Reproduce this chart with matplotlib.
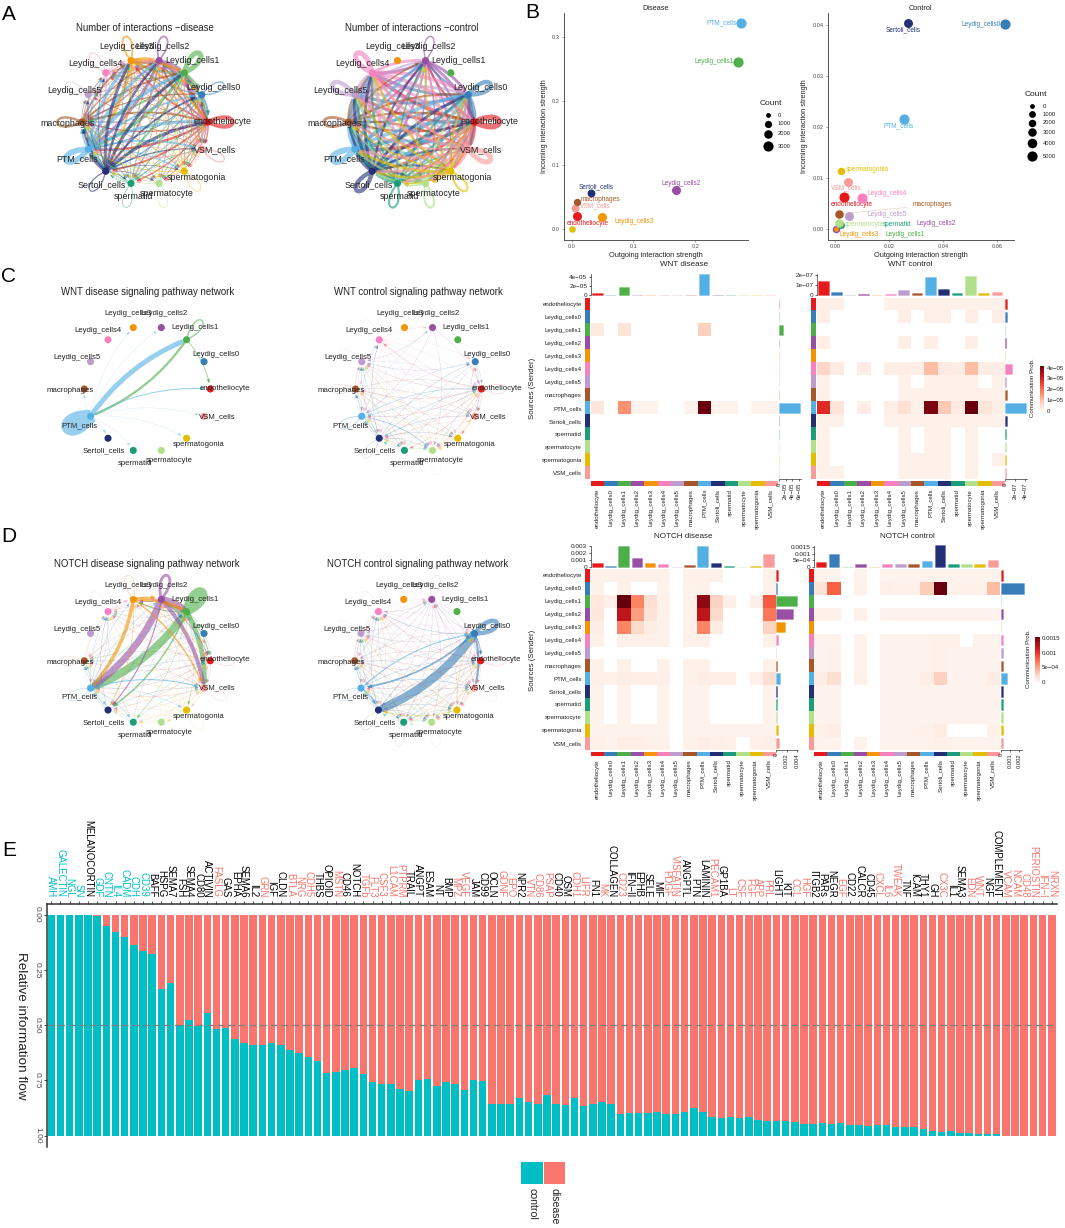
import numpy as np
import matplotlib
matplotlib.use("Agg")
import matplotlib.pyplot as plt
from matplotlib.cm import ScalarMappable
from matplotlib.colors import ListedColormap, Normalize, to_rgba
from matplotlib.patches import FancyArrowPatch, PathPatch, Rectangle
from matplotlib.path import Path

plt.rcParams["font.family"] = ["Liberation Sans", "DejaVu Sans"]

W, H = 1065, 1228

CELLS = ["endotheliocyte", "Leydig_cells0", "Leydig_cells1", "Leydig_cells2", "Leydig_cells3",
         "Leydig_cells4", "Leydig_cells5", "macrophages", "PTM_cells", "Sertoli_cells",
         "spermatid", "spermatocyte", "spermatogonia", "VSM_cells"]
CELL_COLORS = ["#E41A1C", "#377EB8", "#4DAF4A", "#984EA3", "#F29403", "#F781BF", "#BC9DCC",
               "#A65628", "#54B0E4", "#222F75", "#1B9E77", "#B2DF8A", "#E3BE00", "#FB9A99"]
COLOR_OF = dict(zip(CELLS, CELL_COLORS))

# number of interactions, rows are senders
COUNT_DISEASE = [
    [7, 3, 4, 3, 3, 1, 1, 2, 4, 3, 2, 1, 1, 2],
    [3, 2, 3, 2, 2, 1, 0, 1, 2, 2, 1, 1, 1, 1],
    [4, 3, 8, 5, 5, 2, 1, 3, 5, 3, 1, 1, 1, 2],
    [4, 2, 5, 3, 4, 1, 1, 2, 5, 3, 1, 1, 1, 2],
    [4, 2, 5, 4, 3, 1, 1, 2, 6, 3, 1, 1, 1, 2],
    [2, 1, 2, 1, 1, 1, 0, 1, 2, 1, 0, 0, 0, 1],
    [1, 1, 1, 1, 1, 0, 1, 1, 1, 1, 0, 0, 0, 1],
    [3, 2, 3, 2, 3, 1, 1, 4, 3, 2, 1, 1, 1, 1],
    [5, 3, 6, 5, 5, 2, 1, 3, 9, 4, 2, 1, 2, 3],
    [5, 3, 5, 4, 5, 1, 1, 3, 5, 2, 1, 1, 1, 2],
    [1, 1, 1, 1, 1, 0, 0, 1, 1, 1, 1, 0, 0, 1],
    [1, 1, 1, 1, 1, 0, 0, 1, 1, 1, 0, 1, 0, 1],
    [1, 1, 1, 1, 1, 0, 0, 1, 1, 1, 0, 0, 1, 1],
    [2, 1, 2, 1, 1, 0, 0, 1, 2, 1, 1, 1, 1, 2],
]
COUNT_CONTROL = [
    [8, 5, 0, 3, 0, 5, 4, 3, 5, 4, 3, 3, 3, 4],
    [5, 6, 0, 3, 0, 4, 4, 3, 5, 4, 3, 3, 3, 4],
    [0, 0, 0, 0, 0, 0, 0, 0, 0, 0, 0, 0, 0, 0],
    [4, 4, 0, 2, 0, 4, 3, 3, 4, 3, 2, 2, 2, 3],
    [0, 0, 0, 0, 0, 0, 0, 0, 0, 0, 0, 0, 0, 0],
    [5, 5, 0, 4, 0, 7, 5, 4, 5, 5, 3, 3, 3, 4],
    [4, 4, 0, 3, 0, 5, 6, 3, 4, 4, 3, 3, 3, 3],
    [3, 3, 0, 2, 0, 3, 3, 4, 3, 3, 2, 2, 2, 3],
    [5, 5, 0, 4, 0, 5, 4, 4, 8, 5, 3, 3, 4, 4],
    [4, 4, 0, 3, 0, 4, 4, 3, 5, 6, 3, 3, 3, 3],
    [3, 3, 0, 2, 0, 3, 3, 2, 3, 3, 3, 2, 2, 2],
    [3, 3, 0, 2, 0, 3, 3, 2, 3, 3, 2, 3, 2, 2],
    [3, 3, 0, 2, 0, 3, 3, 2, 4, 3, 2, 2, 3, 3],
    [5, 4, 0, 3, 0, 4, 4, 3, 4, 4, 3, 2, 3, 7],
]

# communication probability, in units of 1e-5
WNT_DISEASE = [
    [0] * 14, [0] * 14,
    [.25, 0, .4, 0, 0, 0, 0, 0, .7, 0, 0, 0, 0, 0],
    [0] * 14, [0] * 14, [0] * 14, [0] * 14, [0] * 14,
    [.3, 0, 1.5, .07, .07, 0, 0, .07, 4, .07, .07, 0, .07, .07],
    [0] * 14, [0] * 14, [0] * 14, [0] * 14, [0] * 14,
]
# units of 1e-7
WNT_CONTROL = [
    [.04, .04, 0, 0, 0, .03, .03, .03, .03, .03, .03, .03, .03, .03],
    [.05, 0, 0, 0, 0, 0, .05, 0, .04, .04, 0, .05, 0, .05],
    [0] * 14,
    [.05, 0, 0, 0, 0, 0, .05, 0, .05, 0, 0, .05, 0, 0],
    [0] * 14,
    [.2, .07, 0, .06, 0, .05, .06, .05, .3, .08, .06, .3, .06, .05],
    [.03, 0, 0, 0, 0, 0, .03, 0, .03, .03, .03, .03, 0, .03],
    [.03, 0, 0, 0, 0, 0, .03, .03, .03, .03, .03, .03, .03, .03],
    [.85, .12, 0, .05, 0, .05, .15, .03, 1.2, .25, .08, 1.25, .12, .05],
    [.03, .03, 0, 0, 0, .03, .03, .03, .03, .03, .03, .03, .03, .03],
    [.03, 0, 0, 0, 0, 0, .03, 0, .03, .03, 0, .03, 0, 0],
    [.03, 0, 0, 0, 0, 0, .03, 0, .03, .03, 0, .03, 0, 0],
    [.03, 0, 0, 0, 0, 0, .03, .03, .03, .03, 0, .03, 0, .03],
    [.03, .03, 0, 0, 0, 0, .03, .03, .03, .03, 0, .03, 0, 0],
]
# units of 1e-3
NOTCH_DISEASE = [
    [.03, .03, .03, .03, .03, .03, 0, .03, .03, .03, 0, 0, 0, .03],
    [.03, 0, .03, 0, 0, .02, 0, .02, .03, 0, 0, 0, 0, .03],
    [.1, .04, 1.2, .5, .15, .03, 0, .03, 1.1, .2, .04, 0, .04, .65],
    [.1, 0, .95, .4, .12, .03, 0, .03, .95, .17, 0, 0, 0, .55],
    [.06, 0, .5, .17, .06, .03, 0, .03, .5, .07, 0, 0, 0, .2],
    [.03, 0, .04, .04, .04, .03, 0, .03, .04, 0, 0, 0, 0, .03],
    [0] * 14,
    [.03, 0, .03, 0, 0, .03, 0, .03, .03, 0, 0, 0, 0, .03],
    [.04, .04, .06, .05, .05, .04, 0, .03, .06, .05, .05, 0, .04, .15],
    [.02, 0, .02, 0, 0, .02, 0, .02, .02, 0, 0, 0, 0, .02],
    [.02, 0, .02, 0, 0, .02, 0, .02, .02, 0, 0, 0, 0, .02],
    [.02, 0, .02, 0, 0, .02, 0, .02, .02, 0, 0, 0, 0, .02],
    [.02, .02, .02, .02, .02, .02, 0, .02, .02, .02, .02, .02, .02, .02],
    [.03, .02, .06, .05, .03, .03, 0, .03, .06, .04, .03, 0, .03, .04],
]
NOTCH_CONTROL = [
    [.02, .02, 0, .02, 0, .02, .02, .02, .02, .02, .02, .02, .02, .02],
    [.12, .6, 0, .03, 0, .04, .03, .03, .22, 1.15, .03, .03, .03, .28],
    [0] * 14,
    [.03, .03, 0, .03, 0, .02, .02, .02, .02, .02, .02, .02, .02, .02],
    [0] * 14,
    [.02, .02, 0, .02, 0, .02, .02, .02, .02, .03, .03, 0, .02, .02],
    [.02, .03, 0, .02, 0, .02, .02, .02, .02, .03, .02, .02, .02, .02],
    [.02, .03, 0, .02, 0, .02, .02, .02, .02, .03, .02, .02, .02, .02],
    [.05, .14, 0, .03, 0, .02, .02, .02, .05, .2, .02, .02, .02, .06],
    [.02, .02, 0, 0, 0, .02, .02, .02, .02, .02, .02, .02, .02, .02],
    [.02, .02, 0, 0, 0, .02, .02, .02, .02, .02, .02, .02, .02, .02],
    [.02, .02, 0, 0, 0, .02, .02, .02, .02, .02, .02, .02, .02, .02],
    [.03, .05, 0, 0, 0, .02, .02, .02, .03, .07, 0, 0, 0, .03],
    [.02, .02, 0, .02, 0, .02, .02, .02, .02, .03, .02, .02, .02, .02],
]

# panel B
DIS_NAMES = ["spermatogonia", "Leydig_cells3", "endotheliocyte", "VSM_cells", "macrophages", "Sertoli_cells",
             "Leydig_cells2", "Leydig_cells1", "PTM_cells"]
DIS_OUT = [0, .0497, .0094, .0055, .0083, .032, .1685, .270, .2746]
DIS_IN = [0, .0182, .0198, .0326, .0422, .0571, .0614, .2616, .322]
DIS_COUNT = [700, 2300, 2300, 1500, 1100, 1500, 2300, 3200, 3300]
DIS_LABEL_OFF = [None, (32, 4), (10, 7), (20, -2.4), (24, -3), (5, -6), (5, -6), (-24, 0), (-19.5, 0)]

CTL_NAMES = ["Leydig_cells1", "Leydig_cells2", "Leydig_cells3", "spermatid", "spermatocyte", "macrophages", "Leydig_cells5",
             "endotheliocyte", "Leydig_cells4", "VSM_cells", "spermatogonia", "PTM_cells", "Sertoli_cells", "Leydig_cells0"]
CTL_OUT = [.00025, .00025, .00025, .0022, .0014, .0013, .0049, .0033, .0099, .0046, .00215, .0253, .0268, .0629]
CTL_IN = [0, 0, 0, .00087, .00127, .00295, .00255, .0062, .0061, .00925, .0114, .0215, .0404, .0402]
CTL_COUNT = [0, 2000, 0, 1200, 3000, 3000, 3400, 4800, 4800, 3400, 2000, 4800, 3400, 5000]
CTL_LABEL_OFF = [(68.6, 6), (100, -5), (23.5, 6), (55.6, 0), (25, 1.7), (93.5, -9), (38, -2),
                 (7, 7.5), (25, -4), (-2, 6), (26, -1.4), (-5.5, 6.5), (-5, 6.5), (-24, 0)]

DIS_LEVELS = [0, 1000, 2000, 3000]
DIS_DIAM = [4.8, 7.2, 8.5, 10.2]
CTL_LEVELS = [0, 1000, 2000, 3000, 4000, 5000]
CTL_DIAM = [4.8, 6.8, 7.5, 8.5, 9.6, 10.2]

# panel E
PATHWAYS = ["AMH", "GALECTIN", "NGL", "SN", "MELANOCORTIN", "GDF", "CNTN", "IL4", "CADM", "CDH", "CD39", "BAFF",
            "HSPG", "SEMA7", "FSH", "SEMA4", "CD80", "ACTIVIN", "FASLG", "GAS", "EPHA", "SEMA6", "IL2", "GRN",
            "IGF", "CLDN", "BTLA", "NRG", "CDH5", "THBS", "OPIOID", "MSTN", "CD46", "NOTCH", "TGFb", "FLT3",
            "CSF3", "L1CAM", "PTPRM", "TRAIL", "ANGPT", "ESAM", "NT", "BMP", "MPZ", "VEGF", "JAM", "CD99",
            "OCLN", "GDNF", "EPO", "NPR2", "VTN", "CD86", "PSAP", "CD40", "OSM", "CDH1", "LIFR", "FN1", "MK",
            "COLLAGEN", "CD23", "IFN\u2212II", "EPHB", "SELE", "MIF", "PDGF", "VISFATIN", "ANGPTL", "PTN",
            "LAMININ", "PECAM1", "GP1BA", "LT", "CSF", "FGF", "APP", "PRL", "LIGHT", "KIT", "CCL", "HGF",
            "ITGB2", "PARs", "NEGR", "EGF", "CD22", "CALCR", "CD45", "CXCL", "IL6", "TWEAK", "TNF", "ICAM",
            "THY1", "GH", "CX3C", "IL1", "SEMA3", "EDN", "WNT", "NGF", "COMPLEMENT", "VCAM", "NCAM", "CD48",
            "PERIOSTIN", "IFN\u2212I", "NRXN"]
DISEASE_SHARE = [0, 0, 0, 0, 0, .006, .053, .08, .10, .14, .167, .18,
                 .339, .311, .5, .478, .505, .446, .52, .515, .565, .58, .59, .59,
                 .58, .59, .615, .625, .645, .663, .715, .714, .703, .695, .723, .757,
                 .765, .765, .788, .80, .75, .746, .774, .758, .769, .793, .748, .752,
                 .855, .857, .859, .831, .85, .855, .817, .856, .864, .831, .865, .856, .85,
                 .858, .904, .896, .896, .896, .892, .904, .904, .892, .876,
                 .895, .918, .92, .918, .92, .918, .93, .932, .935, .933, .937, .949,
                 .948, .943, .946, .943, .954, .952, .957, .952, .954, .96, .961, .96,
                 .971, .98, .983, .978, .989, .988, .991, .994, .995, 1, 1, 1, 1, 1, 1]
TEAL_LABELS = ["AMH", "GALECTIN", "NGL", "SN", "GDF", "CNTN", "IL4", "CADM", "CDH", "CD39"]
RED_LABELS = ["FASLG", "GRN", "BTLA", "NRG", "CDH5", "MSTN", "TGFb", "FLT3", "CSF3", "L1CAM", "PTPRM", "MPZ", "VEGF",
              "GDNF", "EPO", "VTN", "CD86", "PSAP", "CDH1", "LIFR", "MK", "CD23", "PDGF", "VISFATIN", "PECAM1", "LT",
              "CSF", "FGF", "APP", "PRL", "CCL", "HGF", "EGF", "CXCL", "IL6", "TWEAK", "CX3C", "EDN", "WNT", "VCAM",
              "NCAM", "CD48", "PERIOSTIN", "IFN\u2212I", "NRXN"]
TEAL = "#00BFC4"
RED = "#F8766D"

# label offsets from each node, in pixels (x right, y up)
NODE_LABEL_OFF = [(15, 1), (12, 7), (8, 12), (3, 14), (-5, 14), (-10, 9), (-14, 4),
                  (-14, -2), (-11, -9), (-4, -13), (2, -13), (8, -10), (12, -6), (13, 0)]

fig = plt.figure(figsize=(W / 100, H / 100), dpi=100)


def ax_px(x0, y0, x1, y1):
    return fig.add_axes([x0 / W, 1 - y1 / H, (x1 - x0) / W, (y1 - y0) / H])


page = ax_px(0, 0, W, H)
page.set_xlim(0, W)
page.set_ylim(H, 0)
page.axis("off")


def draw_network(cx, cy, matrix, title, title_y, lw_max, label_size, lw_min=0.2, vmax=None):
    mat = np.array(matrix, dtype=float)
    radius = 63.0
    half = 115.0
    ax = ax_px(cx - half, cy - half, cx + half, cy + half)
    ax.set_xlim(-half / radius, half / radius)
    ax.set_ylim(-half / radius, half / radius)
    ax.axis("off")
    ax.patch.set_alpha(0)
    angles = np.deg2rad(np.arange(14) * 360 / 14)
    xs, ys = np.cos(angles), np.sin(angles)
    vmax = vmax or mat.max()
    for i in range(14):
        for j in range(14):
            value = mat[i, j]
            if value <= 0:
                continue
            lw = max(lw_min, value / vmax * lw_max)
            color = to_rgba(CELL_COLORS[i], 0.4 if lw <= lw_min else 0.6)
            if i == j:
                reach = 0.58
                out = angles[i]
                c1 = (xs[i] + reach * np.cos(out + 0.45), ys[i] + reach * np.sin(out + 0.45))
                c2 = (xs[i] + reach * np.cos(out - 0.45), ys[i] + reach * np.sin(out - 0.45))
                loop = Path([(xs[i], ys[i]), c1, c2, (xs[i], ys[i])],
                            [Path.MOVETO, Path.CURVE4, Path.CURVE4, Path.CURVE4])
                ax.add_patch(PathPatch(loop, fill=False, edgecolor=color, lw=lw, zorder=2))
                continue
            style = "-|>,head_length=2.2,head_width=0.9" if lw < 1.5 else "-"
            ax.add_patch(FancyArrowPatch((xs[i], ys[i]), (xs[j], ys[j]), connectionstyle="arc3,rad=-0.15",
                                         arrowstyle=style, mutation_scale=1, lw=lw, color=color,
                                         shrinkA=1, shrinkB=4, zorder=2))
    ax.scatter(xs, ys, s=26, c=CELL_COLORS, linewidths=0, zorder=5)
    for k, name in enumerate(CELLS):
        dx, dy = NODE_LABEL_OFF[k]
        ax.text(xs[k] + dx / radius, ys[k] + dy / radius, name, fontsize=label_size, color="#222222",
                ha="center", va="center", zorder=6)
    page.text(cx, title_y, title, fontsize=6.9, color="#222222", ha="center", va="center")


def draw_scatter(box, names, outgoing, incoming, counts, offsets, levels, diam, xlim, ylim, xticks, yticks, title):
    ax = ax_px(*box)
    ax.set_xlim(*xlim)
    ax.set_ylim(*ylim)
    for name, x, y, count, off in zip(names, outgoing, incoming, counts, offsets):
        d = np.interp(count, levels, diam) * 0.72
        ax.scatter([x], [y], s=d * d, color=COLOR_OF[name], linewidths=0, zorder=3, clip_on=False)
        if off is None:
            continue
        arrow = dict(arrowstyle="-", color=COLOR_OF[name], lw=0.3, alpha=0.4) if abs(off[0]) > 90 and name == "macrophages" else None
        ax.annotate(name, xy=(x, y), xytext=(off[0] * 0.72, -off[1] * 0.72), textcoords="offset points",
                    fontsize=4.7, color=COLOR_OF[name], ha="center", va="center", zorder=2, arrowprops=arrow)
    for side in ["top", "right"]:
        ax.spines[side].set_visible(False)
    for side in ["left", "bottom"]:
        ax.spines[side].set_color("#555555")
        ax.spines[side].set_linewidth(0.7)
    ax.set_xticks(xticks)
    ax.set_yticks(yticks)
    ax.tick_params(labelsize=4.1, length=1.5, width=0.4, pad=1.5, color="#555555", labelcolor="#4D4D4D")
    ax.set_xlabel("Outgoing interaction strength", fontsize=5.3, labelpad=2, color="#222222")
    ax.set_ylabel("Incoming interaction strength", fontsize=5.3, labelpad=3, color="#222222")
    ax.set_title(title, fontsize=5.3, pad=2, color="#222222")
    ax.patch.set_alpha(0)


def count_legend(title_xy, dot_x, label_x, rows, levels, diam):
    page.text(title_xy[0], title_xy[1], "Count", fontsize=6, ha="center", va="center", color="#222222")
    for y, level, d in zip(rows, levels, diam):
        page.scatter([dot_x], [y], s=(d * 0.72) ** 2, color="black", linewidths=0)
        page.text(label_x, y, str(level), fontsize=4.2, ha="left", va="center", color="#222222")


def draw_heat(main, top_y, strip_x, right_x, bottom_y, matrix, vmax, top, right, title, title_y, row_labels):
    mat = np.array(matrix, dtype=float)
    x0, y0, x1, y1 = main
    cmap = plt.get_cmap("Reds").copy()
    cmap.set_bad("white")
    ax = ax_px(x0, y0, x1, y1)
    ax.imshow(np.ma.masked_equal(mat, 0), cmap=cmap, norm=Normalize(0, vmax), aspect="auto", interpolation="nearest")
    ax.axis("off")

    strips = ListedColormap(CELL_COLORS)
    left = ax_px(strip_x[0], y0, strip_x[1], y1)
    left.imshow(np.arange(14).reshape(-1, 1), cmap=strips, aspect="auto", interpolation="nearest")
    left.set_xticks([])
    left.set_yticks(range(14))
    left.set_yticklabels(CELLS if row_labels else [""] * 14, fontsize=4.4, color="#222222")
    left.tick_params(length=0, pad=2)
    for spine in left.spines.values():
        spine.set_visible(False)

    bottom = ax_px(x0, bottom_y[0], x1, bottom_y[1])
    bottom.imshow(np.arange(14).reshape(1, -1), cmap=strips, aspect="auto", interpolation="nearest")
    bottom.set_yticks([])
    bottom.set_xticks(range(14))
    bottom.set_xticklabels(CELLS, fontsize=4.4, rotation=90, color="#222222")
    bottom.tick_params(length=0, pad=2)
    for spine in bottom.spines.values():
        spine.set_visible(False)

    edges = [to_rgba(c, 0.45) for c in CELL_COLORS]
    top_ax = ax_px(x0, top_y[0], x1, top_y[1])
    top_ax.bar(range(14), mat.sum(axis=0), width=0.8, color=CELL_COLORS, edgecolor=edges, linewidth=0.4, clip_on=False)
    top_ax.set_xlim(-0.5, 13.5)
    top_ax.set_ylim(0, top["max"])
    top_ax.set_xticks([])
    top_ax.set_yticks(top["ticks"])
    top_ax.set_yticklabels(top["labels"], fontsize=4.6, color="#222222")
    top_ax.tick_params(length=1.5, width=0.4, pad=1)
    for side in ["top", "right", "bottom"]:
        top_ax.spines[side].set_visible(False)
    top_ax.spines["left"].set_linewidth(0.4)
    top_ax.patch.set_alpha(0)

    right_ax = ax_px(right_x[0], y0, right_x[1], y1)
    right_ax.barh(range(14), mat.sum(axis=1), height=0.8, color=CELL_COLORS, edgecolor=edges, linewidth=0.4, clip_on=False)
    right_ax.set_ylim(13.5, -0.5)
    right_ax.set_xlim(0, right["max"])
    right_ax.set_yticks([])
    right_ax.set_xticks(right["ticks"])
    right_ax.set_xticklabels(right["labels"], fontsize=4.2, rotation=90, color="#222222")
    right_ax.tick_params(length=1.5, width=0.4, pad=1)
    for side in ["top", "right", "left"]:
        right_ax.spines[side].set_visible(False)
    right_ax.spines["bottom"].set_linewidth(0.4)
    right_ax.patch.set_alpha(0)

    page.text((x0 + x1) / 2, title_y, title, fontsize=5.8, ha="center", va="center", color="#222222")


def heat_colorbar(box, vmax, ticks, labels, title_x, title_y):
    cax = ax_px(*box)
    cbar = fig.colorbar(ScalarMappable(norm=Normalize(0, vmax), cmap="Reds"), cax=cax)
    cbar.set_ticks(ticks)
    cbar.set_ticklabels(labels)
    cbar.ax.tick_params(labelsize=4.4, length=0, pad=1.5, labelcolor="#222222")
    cbar.outline.set_visible(False)
    page.text(title_x, title_y, "Communication Prob.", fontsize=4.4, rotation=90, ha="center", va="center", color="#222222")


# panel A
draw_network(145, 122, COUNT_DISEASE, "Number of interactions \u2212disease", 28, 4.0, 6.4)
draw_network(411.5, 122, COUNT_CONTROL, "Number of interactions \u2212control", 28, 4.2, 6.4)

# panel B
draw_scatter((563.8, 13, 748, 240), DIS_NAMES, DIS_OUT, DIS_IN, DIS_COUNT, DIS_LABEL_OFF, DIS_LEVELS, DIS_DIAM,
             (-0.0126, 0.2854), (-0.0172, 0.338), [0, 0.1, 0.2], [0, 0.1, 0.2, 0.3], "Disease")
draw_scatter((827.6, 13, 1013.6, 240), CTL_NAMES, CTL_OUT, CTL_IN, CTL_COUNT, CTL_LABEL_OFF, CTL_LEVELS, CTL_DIAM,
             (-0.0029, 0.0661), (-0.00216, 0.0424), [0, 0.02, 0.04, 0.06], [0, 0.01, 0.02, 0.03, 0.04], "Control")
count_legend((771, 103.8), 768, 778, [115.4, 123.9, 133.8, 146.4], DIS_LEVELS, DIS_DIAM)
count_legend((1035.8, 94.5), 1031.7, 1042.6, [106, 114.3, 122.9, 132.4, 143.3, 156], CTL_LEVELS, CTL_DIAM)

# panel C, control edges stay thin in the network
draw_network(147.3, 389, WNT_DISEASE, "WNT disease signaling pathway network", 292, 9.5, 5.6)
draw_network(418.5, 389, WNT_CONTROL, "WNT control signaling pathway network", 292, 0.5, 5.6)
draw_heat((590.8, 297.7, 777.4, 479.2), (273.8, 295.3), (584.6, 589), (778.8, 800.6), (481.3, 486), WNT_DISEASE, 4,
          dict(max=4.67, ticks=[0, 2, 4], labels=["0", "2e\u221205", "4e\u221205"]),
          dict(max=6.4, ticks=[0, 2, 4, 6], labels=["0", "2e\u221205", "4e\u221205", "6e\u221205"]),
          "WNT disease", 264.6, True)
draw_heat((816.7, 297.7, 1003.7, 479.2), (273.8, 295.3), (811.2, 815.3), (1005.4, 1027.3), (481.3, 486), WNT_CONTROL, 1.25,
          dict(max=2.14, ticks=[0, 1, 2], labels=["0", "1e\u221207", "2e\u221207"]),
          dict(max=4.4, ticks=[0, 2, 4], labels=["0", "2e\u221207", "4e\u221207"]),
          "WNT control", 264.6, False)
page.text(533, 388, "Sources (Sender)", fontsize=5.6, rotation=90, ha="center", va="center", color="#222222")
heat_colorbar((1040, 366, 1044.3, 411), 4.15, [0, 1, 2, 3, 4], ["0", "1e\u221205", "2e\u221205", "3e\u221205", "4e\u221205"], 1033, 388)

# panel D
draw_network(147.3, 660.8, NOTCH_DISEASE, "NOTCH disease signaling pathway network", 563.8, 6.2, 5.6)
draw_network(417.7, 660.8, NOTCH_CONTROL, "NOTCH control signaling pathway network", 563.8, 6.2, 5.6)
draw_heat((590.8, 569, 775, 749.6), (545.5, 567), (584.6, 589), (776.4, 797.6), (751.6, 756.4), NOTCH_DISEASE, 1.2,
          dict(max=3.0, ticks=[0, 1, 2, 3], labels=["0", "0.001", "0.002", "0.003"]),
          dict(max=4.13, ticks=[0, 2, 4], labels=["0", "0.002", "0.004"]),
          "NOTCH disease", 536, True)
draw_heat((814.3, 569, 999.6, 749.6), (545.5, 567), (808.8, 813), (1001, 1022), (751.6, 756.4), NOTCH_CONTROL, 1.15,
          dict(max=1.63, ticks=[0, 0.5, 1, 1.5], labels=["0", "5e\u221204", "0.001", "0.0015"]),
          dict(max=2.34, ticks=[0, 1, 2], labels=["0", "0.001", "0.002"]),
          "NOTCH control", 536, False)
page.text(533, 660, "Sources (Sender)", fontsize=5.6, rotation=90, ha="center", va="center", color="#222222")
heat_colorbar((1035, 637, 1040, 682), 1.55, [0, 0.5, 1, 1.5], ["0", "5e\u221204", "0.001", "0.0015"], 1029, 658.6)

# panel E
ax = ax_px(46.5, 903.5, 1057, 1146.6)
x = np.arange(1, len(PATHWAYS) + 1)
share = np.array(DISEASE_SHARE)
ax.bar(x, share, width=0.82, color=RED, linewidth=0)
ax.bar(x, 1 - share, bottom=share, width=0.82, color=TEAL, linewidth=0)
ax.axhline(0.5, color="#7F7F7F", lw=0.9, dashes=(5.5, 3))
ax.set_xlim(0.48, 110.57)
ax.set_ylim(1.05, -0.05)
ax.xaxis.tick_top()
ax.set_xticks(x)
ax.set_xticklabels(PATHWAYS, rotation=270, fontsize=6.9, ha="center", va="bottom")
for tick, name in zip(ax.get_xticklabels(), PATHWAYS):
    tick.set_color(TEAL if name in TEAL_LABELS else RED if name in RED_LABELS else "black")
ax.set_yticks([0, 0.25, 0.5, 0.75, 1])
ax.set_yticklabels(["0.00", "0.25", "0.50", "0.75", "1.00"], rotation=270, fontsize=6, va="center", color="#4D4D4D")
ax.tick_params(axis="x", length=2, width=0.6, pad=2.5, color="#333333")
ax.tick_params(axis="y", length=2, width=0.6, pad=2, color="#333333")
for side in ["right", "bottom"]:
    ax.spines[side].set_visible(False)
for side in ["left", "top"]:
    ax.spines[side].set_linewidth(1.1)
    ax.spines[side].set_color("#333333")
page.text(20.7, 1026, "Relative information flow", fontsize=9.7, rotation=270, ha="center", va="center", color="#222222")

page.add_patch(Rectangle((521, 1162), 22, 22, color=TEAL, lw=0))
page.add_patch(Rectangle((544, 1162), 21, 22, color=RED, lw=0))
page.text(532, 1188, "control", fontsize=7.6, rotation=270, ha="center", va="top", color="#222222")
page.text(554, 1188, "disease", fontsize=7.6, rotation=270, ha="center", va="top", color="#222222")

# panel letters
for letter, lx, ly in [("A", 9, 14), ("B", 532, 13), ("C", 9, 276), ("D", 9, 537), ("E", 9.5, 851)]:
    page.text(lx, ly, letter, fontsize=15, ha="center", va="center", color="black")

fig.savefig("out.png", dpi=100)
